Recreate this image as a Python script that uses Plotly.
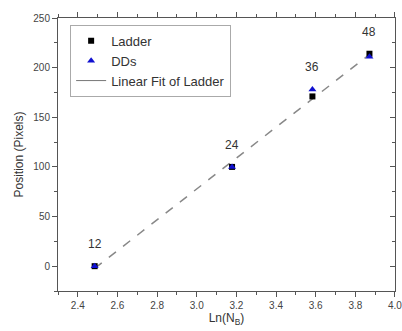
import numpy as np
import plotly.graph_objects as go

ladder_n = [12, 24, 36, 48]
ladder_y = [0, 100, 171, 214]
dds_y = [0, 100, 178, 211]
point_labels = ["12", "24", "36", "48"]

x = np.log(ladder_n)
slope, intercept = np.polyfit(x, ladder_y, 1)
fit_x = [x[0], x[-1]]
fit_y = [slope * v + intercept for v in fit_x]

axcol = "#555555"
fig = go.Figure()
fig.add_trace(go.Scatter(x=fit_x, y=fit_y, mode="lines", showlegend=False,
                         line=dict(color="#888888", width=1.5, dash="dash")))
fig.add_trace(go.Scatter(x=x, y=ladder_y, mode="markers", name="Ladder",
                         marker=dict(symbol="square", size=6, color="black")))
fig.add_trace(go.Scatter(x=x, y=dds_y, mode="markers", name="DDs",
                         marker=dict(symbol="triangle-up", size=7, color="#1010d0")))
fig.add_trace(go.Scatter(x=[None], y=[None], mode="lines", name="Linear Fit of Ladder",
                         line=dict(color="#777777", width=1)))
fig.add_trace(go.Scatter(x=[None], y=[None], yaxis="y2", showlegend=False))

for xi, a, b, t in zip(x, ladder_y, dds_y, point_labels):
    fig.add_annotation(x=xi, y=max(a, b), text=t, showarrow=False, yshift=22,
                       font=dict(size=12, color="#333333"))

fig.update_layout(
    width=402, height=331,
    margin=dict(l=58, r=7, t=18, b=40, autoexpand=False),
    paper_bgcolor="white", plot_bgcolor="white",
    font=dict(family="Liberation Sans, Arial, sans-serif", color="#333333"),
    legend=dict(x=0.036, y=0.975, xanchor="left", yanchor="top",
                bordercolor="#aaaaaa", borderwidth=1, bgcolor="white",
                font=dict(size=13, color="#333333"), itemwidth=30,
                tracegroupgap=0),
    xaxis=dict(range=[2.3, 4.0001], dtick=0.2, tick0=2.4, ticks="outside", ticklen=5,
               tickwidth=1, tickcolor=axcol, showline=True, linecolor=axcol, linewidth=1,
               mirror="ticks", showgrid=False, zeroline=False, tickformat=".1f",
               automargin=False, ticklabeloverflow="allow",
               tickfont=dict(size=10, color="#444444"),
               minor=dict(dtick=0.1, ticks="outside", ticklen=3, tickcolor=axcol),
               title=dict(text="Ln(N<sub>B</sub>)", font=dict(size=12), standoff=1)),
    yaxis=dict(range=[-25, 250], dtick=50, tick0=0, ticks="outside", ticklen=5,
               tickwidth=1, tickcolor=axcol, showline=True, linecolor=axcol, linewidth=1,
               mirror=True, showgrid=False, zeroline=False, automargin=False,
               tickfont=dict(size=10, color="#444444"),
               minor=dict(dtick=25, ticks="outside", ticklen=3, tickcolor=axcol),
               title=dict(text="Position (Pixels)", font=dict(size=12), standoff=7)),
    yaxis2=dict(range=[-25, 250], dtick=50, tick0=0, overlaying="y", side="right",
                ticks="inside", ticklen=5, tickcolor=axcol, showticklabels=False,
                showgrid=False, zeroline=False, showline=False, automargin=False,
                minor=dict(dtick=25, ticks="inside", ticklen=3, tickcolor=axcol)),
)
fig.write_html("out.html", config={"displayModeBar": False},
               post_script="document.body.style.margin='0';document.body.style.padding='0';")
